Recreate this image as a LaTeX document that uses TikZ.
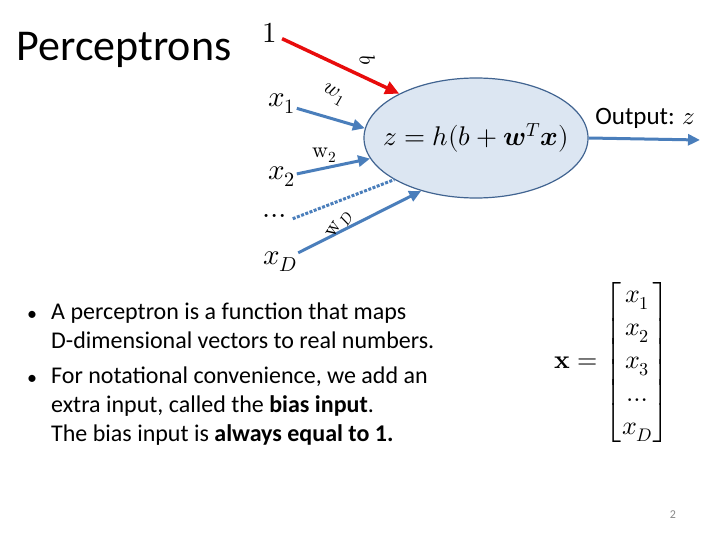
\documentclass[tikz,border=0pt]{standalone}
\usepackage{amsmath}
\usepackage{fontspec}
\usepackage{unicode-math}
\setmainfont{Carlito}
\setmathfont{Latin Modern Math}
\usetikzlibrary{
  arrows.meta,
  positioning,
  shapes.geometric
}
\definecolor{wireblue}{RGB}{74,126,187}
\definecolor{cellfill}{RGB}{220,230,242}
\definecolor{cellline}{RGB}{65,100,145}
\definecolor{biasred}{RGB}{232,12,12}
\definecolor{pagegray}{RGB}{137,137,137}

\begin{document}
\begin{tikzpicture}[x=1pt,y=-1pt,
  every node/.style={inner sep=1pt},
  inlabel/.style={font=\fontsize{29}{34}\selectfont},
  wlabel/.style={font=\fontsize{22}{26}\selectfont},
  bodytext/.style={font=\fontsize{24}{29}\selectfont, align=left},
  bulletmark/.style={font=\fontsize{20}{24}\selectfont},
  wire/.style={wireblue, line width=3pt, -{Triangle[length=12pt,width=11pt]}},
  biaswire/.style={biasred, line width=3.5pt, -{Triangle[length=14pt,width=13pt]}}
]

  \useasboundingbox (0,0) rectangle (720,540);
  \fill[white] (0,0) rectangle (720,540);

  % title
  \node[font=\fontsize{44}{52}\selectfont] (title) at (124,50) {Perceptrons};

  % the unit
  \node[ellipse, draw=cellline, line width=1.2pt, fill=cellfill,
        minimum width=224pt, minimum height=120pt, inner sep=0pt] (neuron) at (476,138) {};
  \node[font=\fontsize{27}{32}\selectfont] (rule) at (neuron.center)
    {$z = h(b + \symbfit{w}^{T} \symbfit{x})$};

  % inputs
  \node[inlabel] (one)  at (270,33)  {$1$};
  \node[inlabel] (x1)   at (282,104) {$x_1$};
  \node[inlabel] (x2)   at (282,177) {$x_2$};
  \node[inlabel] (dots) at (277,216) {$\dots$};
  \node[inlabel] (xD)   at (280,262) {$x_D$};

  \draw[biaswire, shorten <=4pt] (one) -- (neuron.150);
  \draw[wire] (x1) -- (neuron.175);
  \draw[wire] (x2) -- (neuron.191);
  \draw[wireblue, line width=3pt, dash pattern=on 3pt off 1.5pt] (dots.south east) -- (neuron.207);
  \draw[wire] (xD) -- (neuron.224);

  % weights
  \node[wlabel, rotate=-80] (blab)  at (368,60)  {$b$};
  \node[wlabel, rotate=-30] (w1lab) at (334,95)  {$w_1$};
  \node[wlabel]             (w2lab) at (325,155) {$\symup{w}_2$};
  \node[wlabel, rotate=58]  (wDlab) at (340,225) {$\symup{w}_D$};

  % output
  \coordinate (out) at (700,140);
  \draw[wire] (neuron.east) -- (out);
  \node[font=\fontsize{25}{30}\selectfont] (outlab) at (645,118) {Output: $z$};

  % input vector
  \node[font=\fontsize{26}{30}\selectfont] (vec) at (612,362)
    {\renewcommand{\arraystretch}{1.1}%
     $\symbfup{x} = \begin{bmatrix} x_1\\ x_2\\ x_3\\ \dots\\ x_D \end{bmatrix}$};

  % bullets
  \node[bulletmark] (dotA) at (32,316) {\textbullet};
  \node[bodytext, anchor=north west] (itemA) at (50,302)
    {A perceptron is a function that maps\\D-dimensional vectors to real numbers.};
  \node[bulletmark] (dotB) at (32,380) {\textbullet};
  \node[bodytext, anchor=north west] (itemB) at (50,366)
    {For notational convenience, we add an\\
     extra input, called the \textbf{bias input}.\\
     The bias input is \textbf{always equal to 1.}};

  \node[font=\fontsize{12}{14}\selectfont, text=pagegray] (pagenum) at (673,515) {2};

\end{tikzpicture}
\end{document}
